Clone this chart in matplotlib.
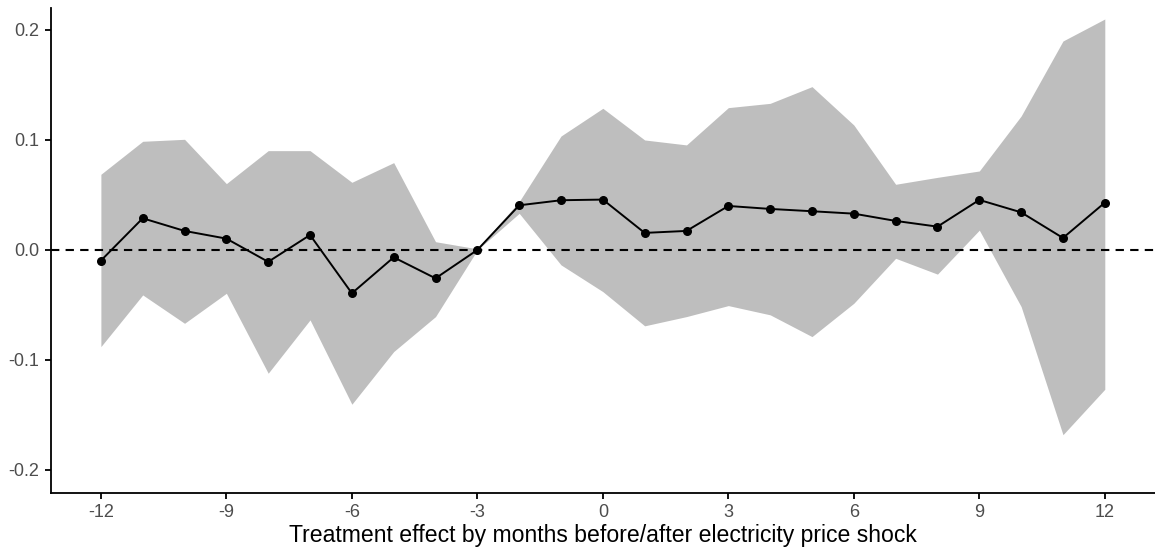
import matplotlib
matplotlib.use("Agg")
import matplotlib.pyplot as plt
import numpy as np

plt.rcParams['font.family'] = ['Liberation Sans', 'DejaVu Sans']

# Event-study estimates with 95% confidence bands
months = np.arange(-12, 13)
estimate = [-0.0097, 0.0288, 0.0173, 0.0103, -0.0108, 0.0136, -0.0394, -0.0067,
            -0.0258, 0.0, 0.0406, 0.0452, 0.0458, 0.0155, 0.0173, 0.0400,
            0.0373, 0.0352, 0.0330, 0.0264, 0.0212, 0.0455, 0.0342, 0.0109, 0.0430]
ci_upper = [0.0688, 0.0988, 0.1006, 0.0603, 0.0903, 0.0903, 0.0615, 0.0794,
            0.0075, 0.0010, 0.0440, 0.1036, 0.1288, 0.1000, 0.0955, 0.1294,
            0.1333, 0.1485, 0.1136, 0.0597, 0.0660, 0.0718, 0.1218, 0.1900, 0.2100]
ci_lower = [-0.0879, -0.0409, -0.0667, -0.0394, -0.1121, -0.0636, -0.1403, -0.0924,
            -0.0606, 0.0, 0.0333, -0.0136, -0.0379, -0.0690, -0.0606, -0.0506,
            -0.0590, -0.0788, -0.0485, -0.0076, -0.0220, 0.0180, -0.0515, -0.1680, -0.1267]

fig = plt.figure(figsize=(11.55, 5.52), dpi=100)
ax = fig.add_axes([0.0439, 0.1069, 0.9561, 0.8786])

ax.fill_between(months, ci_lower, ci_upper, color='#bebebe', linewidth=0, zorder=1)
ax.axhline(0, color='black', linestyle=(0, (4, 3)), linewidth=1.5, zorder=2)
ax.plot(months, estimate, color='black', linewidth=1.4, zorder=3)
ax.scatter(months, estimate, color='black', s=30, zorder=4)

ax.set_xlim(-13.2, 13.2)
ax.set_ylim(-0.221, 0.220)
ax.set_xticks(np.arange(-12, 13, 3))
ax.set_yticks([-0.2, -0.1, 0.0, 0.1, 0.2])
ax.set_yticklabels(['-0.2', '-0.1', '0.0', '0.1', '0.2'])
ax.set_xticklabels([str(m) for m in range(-12, 13, 3)])

ax.set_xlabel('Treatment effect by months before/after electricity price shock',
              fontsize=16.6, color='black', labelpad=2)

for side in ['top', 'right']:
    ax.spines[side].set_visible(False)
for side in ['left', 'bottom']:
    ax.spines[side].set_linewidth(1.3)
    ax.spines[side].set_color('black')

ax.tick_params(axis='both', length=4, width=1.3, color='black',
               labelsize=13, labelcolor='#4d4d4d', pad=4)

fig.savefig('out.png', dpi=100)
